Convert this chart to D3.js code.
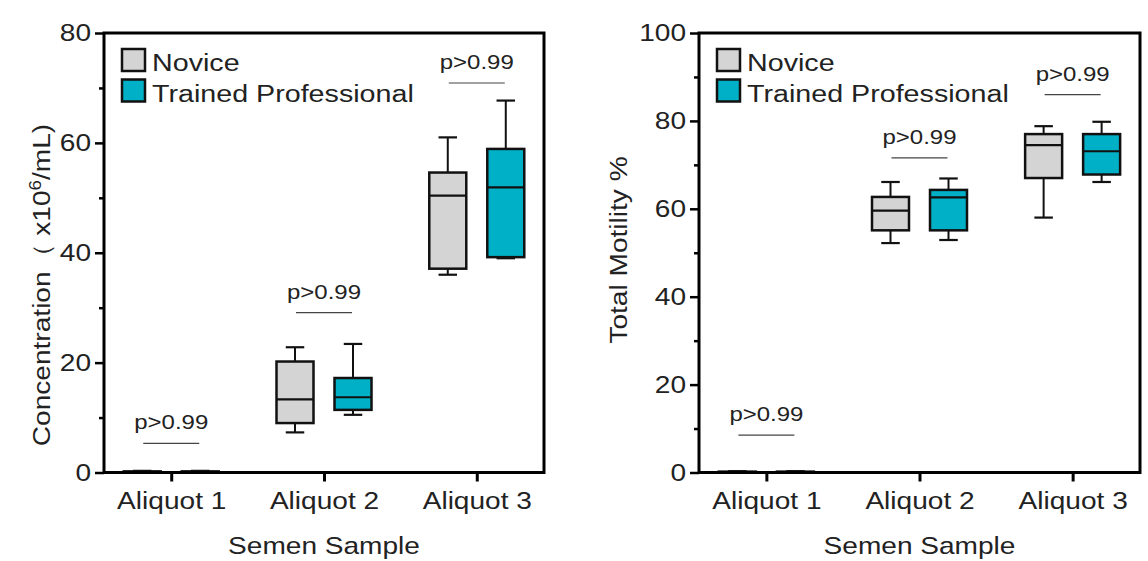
<!DOCTYPE html>
<html>
<head>
<meta charset="utf-8">
<script src="https://cdn.jsdelivr.net/npm/d3@7"></script>
<style>
  body { margin: 0; background: #fff; }
  text { font-family: "Liberation Sans", Arial, sans-serif; fill: #222; }
</style>
</head>
<body>
<script>
// data: [min, q1, median, q3, max]
var categories = ['Aliquot 1', 'Aliquot 2', 'Aliquot 3'];
var groups = ['Novice', 'Trained Professional'];
var groupColors = ['#d4d4d4', '#00b0c6'];

var concNovice  = [[0, 0, 0.1, 0.2, 0.3], [7.3, 9.0, 13.3, 20.2, 22.8], [36.0, 37.1, 50.4, 54.6, 61.0]];
var concTrained = [[0, 0, 0.1, 0.2, 0.3], [10.5, 11.4, 13.7, 17.2, 23.4], [39.0, 39.2, 51.9, 58.9, 67.7]];
var motNovice   = [[0, 0, 0.1, 0.2, 0.3], [52.2, 55.1, 59.6, 62.7, 66.1], [58.0, 67.0, 74.5, 77.0, 78.8]];
var motTrained  = [[0, 0, 0.1, 0.2, 0.3], [52.9, 55.1, 62.6, 64.3, 66.9], [66.1, 67.8, 73.1, 77.0, 79.8]];

var concP = [5.3, 29.1, 70.9];
var motP = [8.5, 71.6, 86.0];
var pLabels = ['p>0.99', 'p>0.99', 'p>0.99'];

var concTicks = [0, 20, 40, 60, 80];
var concMinor = [10, 30, 50, 70];
var motTicks = [0, 20, 40, 60, 80, 100];
var motMinor = [10, 30, 50, 70, 90];

var SX = 1.17; // the figure's font is wider than Arial

var svg = d3.select('body').append('svg')
    .attr('width', 1148)
    .attr('height', 561);

function wide(sel) {
  sel.each(function () {
    var t = d3.select(this);
    var x = +t.attr('x') || 0;
    t.attr('x', x / SX)
      .attr('transform', (t.attr('transform') || '') + ' scale(' + SX + ',1)');
  });
}

function panel(cfg) {
  var g = svg.append('g').attr('transform', 'translate(' + cfg.left + ',33)');
  var w = cfg.width, h = 439.5;

  var x = d3.scalePoint().domain(categories).range([0, w]).padding(0.44);
  var y = d3.scaleLinear().domain([0, cfg.max]).range([h, 0]);
  var off = 29, bw = 37;

  // minor ticks
  g.append('g').call(d3.axisLeft(y).tickValues(cfg.minor).tickSize(5).tickFormat(''))
    .call(function (a) { a.select('.domain').remove(); a.selectAll('line').attr('stroke-width', 2.5); });

  var ya = g.append('g').call(d3.axisLeft(y).tickValues(cfg.ticks).tickSize(9).tickPadding(4));
  ya.select('.domain').remove();
  ya.selectAll('line').attr('stroke-width', 2.5);
  ya.selectAll('text').attr('font-size', 24).attr('fill', '#222');
  wide(ya.selectAll('text'));

  var xa = g.append('g').attr('transform', 'translate(0,' + h + ')')
    .call(d3.axisBottom(x).tickSize(9).tickPadding(10));
  xa.select('.domain').remove();
  xa.selectAll('line').attr('stroke-width', 3);
  xa.selectAll('text').attr('font-size', 24).attr('fill', '#222');
  wide(xa.selectAll('text'));

  // boxes
  [cfg.novice, cfg.trained].forEach(function (series, gi) {
    var dx = gi === 0 ? -off : off;
    series.forEach(function (d, i) {
      var cx = x(categories[i]) + dx;
      var bg = g.append('g');
      bg.append('line')
        .attr('x1', cx).attr('x2', cx)
        .attr('y1', y(d[0])).attr('y2', y(d[4]))
        .attr('stroke', '#111').attr('stroke-width', 2);
      [d[0], d[4]].forEach(function (v) {
        bg.append('line')
          .attr('x1', cx - bw / 4).attr('x2', cx + bw / 4)
          .attr('y1', y(v)).attr('y2', y(v))
          .attr('stroke', '#111').attr('stroke-width', 2.2);
      });
      bg.append('rect')
        .attr('x', cx - bw / 2).attr('width', bw)
        .attr('y', y(d[3])).attr('height', y(d[1]) - y(d[3]))
        .attr('fill', groupColors[gi])
        .attr('stroke', '#111').attr('stroke-width', 2.5);
      bg.append('line')
        .attr('x1', cx - bw / 2).attr('x2', cx + bw / 2)
        .attr('y1', y(d[2])).attr('y2', y(d[2]))
        .attr('stroke', '#111').attr('stroke-width', 2.2);
    });
  });

  // p-value brackets
  cfg.p.forEach(function (v, i) {
    var cx = x(categories[i]);
    g.append('line')
      .attr('x1', cx - 28).attr('x2', cx + 28)
      .attr('y1', y(v)).attr('y2', y(v))
      .attr('stroke', '#444').attr('stroke-width', 1.2);
    g.append('text')
      .attr('transform', 'translate(' + cx + ',' + (y(v) - 14) + ')')
      .attr('text-anchor', 'middle')
      .attr('font-size', 20.5)
      .attr('fill', '#333')
      .text(pLabels[i])
      .call(wide);
  });

  // frame
  g.append('rect')
    .attr('width', w).attr('height', h)
    .attr('fill', 'none')
    .attr('stroke', '#000').attr('stroke-width', 3);

  // legend
  groups.forEach(function (name, i) {
    g.append('rect')
      .attr('x', 18).attr('y', 16 + i * 30.5)
      .attr('width', 23).attr('height', 22)
      .attr('fill', groupColors[i])
      .attr('stroke', '#111').attr('stroke-width', 2.5);
    g.append('text')
      .attr('transform', 'translate(' + 48 + ',' + (38 + i * 30.5) + ')')
      .attr('font-size', 24.5)
      .text(name)
      .call(wide);
  });

  // axis titles
  g.append('text')
    .attr('transform', 'translate(' + (w / 2) + ',521)')
    .attr('text-anchor', 'middle')
    .attr('font-size', 24)
    .text('Semen Sample')
    .call(wide);

  var yt = g.append('text')
    .attr('transform', 'translate(' + cfg.titleX + ',' + cfg.titleY + ') rotate(-90)')
    .attr('text-anchor', 'middle')
    .attr('font-size', 24);
  cfg.title(yt);
  wide(yt);
}

panel({
  left: 104, width: 440, max: 80,
  ticks: concTicks, minor: concMinor,
  novice: concNovice, trained: concTrained, p: concP,
  titleX: -54, titleY: 252,
  title: function (t) {
    t.append('tspan').text('Concentration（ x10');
    t.append('tspan').attr('font-size', 16).attr('dy', -9).text('6');
    t.append('tspan').attr('dy', 9).text('/mL)');
  }
});

panel({
  left: 699, width: 441, max: 100,
  ticks: motTicks, minor: motMinor,
  novice: motNovice, trained: motTrained, p: motP,
  titleX: -72, titleY: 217,
  title: function (t) { t.text('Total Motility %'); }
});
</script>
</body>
</html>
